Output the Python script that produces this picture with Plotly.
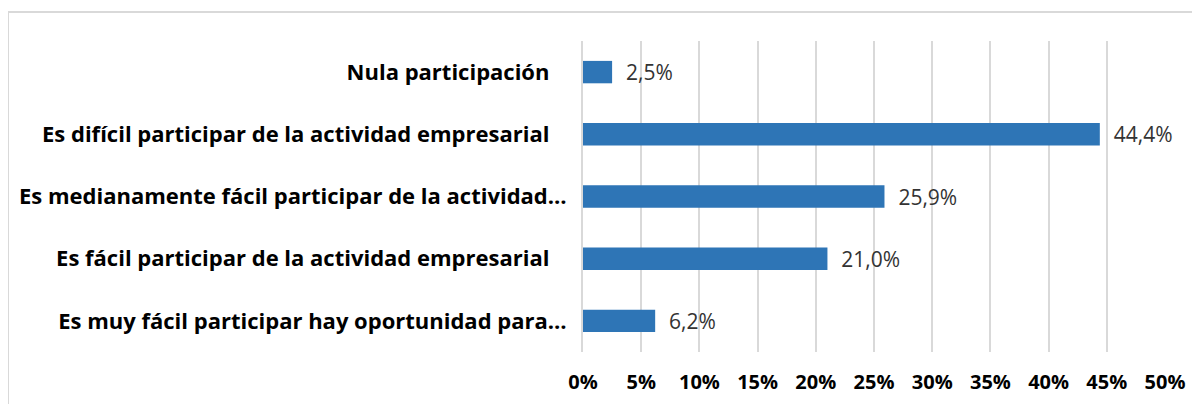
import plotly.graph_objects as go

categories = [
    "Nula participación",
    "Es difícil participar de la actividad empresarial",
    "Es medianamente fácil participar de la actividad…",
    "Es fácil participar de la actividad empresarial",
    "Es muy fácil participar hay oportunidad para…",
]
values = [2.5, 44.4, 25.9, 21.0, 6.2]
tick_vals = [0, 5, 10, 15, 20, 25, 30, 35, 40, 45, 50]
tick_text = [f"{v}%" for v in tick_vals]

NB = "\u00a0"
# full labels carry a trailing space in the original; truncated ones do not
y_text = [c if c.endswith("…") else c + NB * 3 for c in categories]

# the page body has an 8px margin, so offsets are expressed in figure coords
W, H = 1200, 404
L, T = 575, 33
pw, ph = 582, 311
R, B = W - L - pw, H - T - ph

fig = go.Figure(go.Bar(
    y=categories, x=values, orientation="h",
    marker=dict(color="#2E75B6", line=dict(width=0)),
    texttemplate=NB * 2 + "%{x:.1f}%", textposition="outside", cliponaxis=False,
    constraintext="none",
    textfont=dict(family="Open Sans", size=21, color="#333333"),
    width=0.36,
))

fig.update_layout(
    width=W, height=H,
    margin=dict(l=L, r=R, t=T, b=B, autoexpand=False),
    paper_bgcolor="white", plot_bgcolor="white",
    separators=",.",
    showlegend=False,
    font=dict(family="Open Sans", color="#000000"),
    shapes=[dict(
        type="rect", xref="paper", yref="paper",
        x0=(0 - L) / pw, x1=(W + 20 - L) / pw,
        y0=(T + ph - (H + 20)) / ph, y1=(T + ph - 4) / ph,
        line=dict(color="#d9d9d9", width=2), fillcolor="rgba(0,0,0,0)", layer="below",
    )],
)
fig.update_xaxes(
    range=[0, 50], tickmode="array", tickvals=tick_vals, ticktext=tick_text,
    showgrid=True, gridcolor="#d9d9d9", gridwidth=2,
    zeroline=False, showline=False, automargin=False,
    tickfont=dict(family="Open Sans", size=20, color="#000000", weight="bold"),
    ticklabelstandoff=16,
)
fig.update_yaxes(
    categoryorder="array", categoryarray=categories[::-1],
    tickmode="array", tickvals=categories, ticktext=y_text,
    showline=True, linecolor="#d9d9d9", linewidth=2,
    showgrid=False, automargin=False,
    tickfont=dict(family="Open Sans", size=22, color="#000000", weight="bold"),
    ticklabelstandoff=10,
)

fig.write_html("out.html")
